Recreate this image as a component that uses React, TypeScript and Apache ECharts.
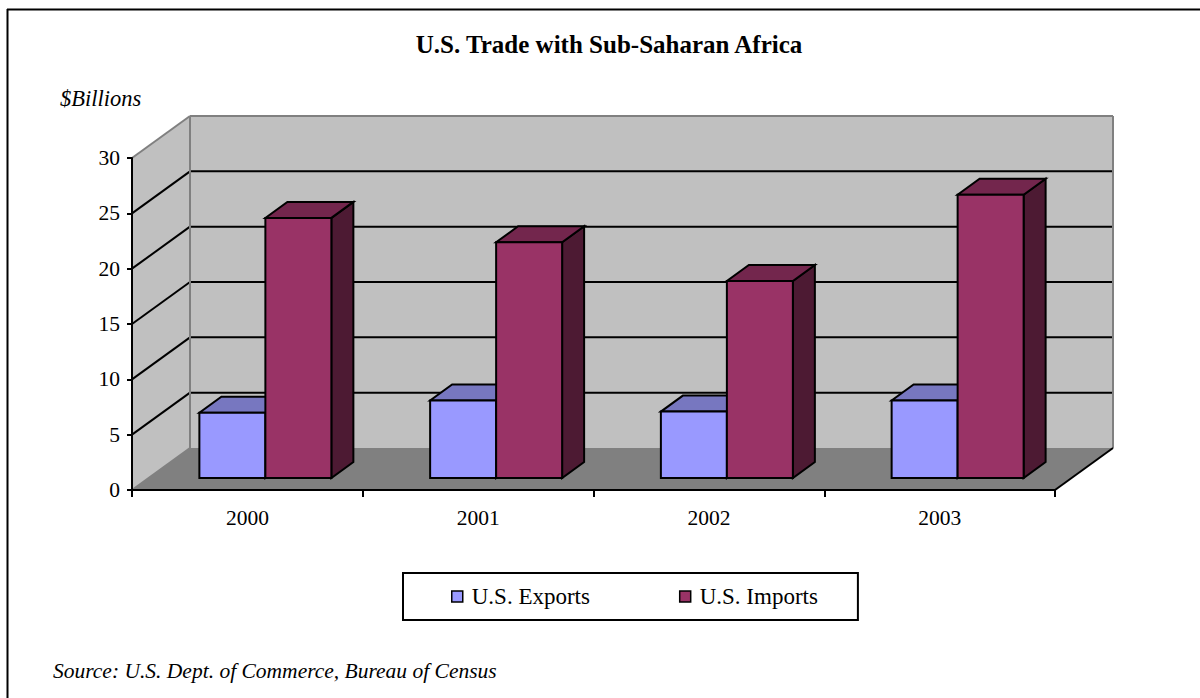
import React, { useEffect, useRef } from "react";
import * as echarts from "echarts";

// ---- data ----
const YEARS = ["2000", "2001", "2002", "2003"];
const EXPORTS = [5.9, 7.0, 6.0, 7.0];
const IMPORTS = [23.5, 21.3, 17.8, 25.6];
const Y_TICKS = [0, 5, 10, 15, 20, 25, 30];
const SERIES_NAMES = ["U.S. Exports", "U.S. Imports"];
const TITLE = "U.S. Trade with Sub-Saharan Africa";
const UNIT = "$Billions";
const SOURCE = "Source: U.S. Dept. of Commerce, Bureau of Census";

// ---- style / layout constants ----
const FONT = '"Liberation Serif", "Times New Roman", serif';
const DEPTH = { dx: 58, dy: -42 };
const BAR_SHIFT = { dx: 18, dy: -12 };
const BAR_DEPTH = { dx: 22, dy: -16 };
const BAR_WIDTH_RATIO = 0.286;

function barRenderer(sideSign: number, front: string, top: string, side: string) {
  return (params: any, api: any) => {
    const idx = api.value(0);
    const val = api.value(1);
    const base = api.coord([idx, 0]);
    const peak = api.coord([idx, val]);
    const bw = api.size([1, 0])[0] * BAR_WIDTH_RATIO;
    const xL = base[0] + BAR_SHIFT.dx + (sideSign < 0 ? -bw : 0);
    const xR = xL + bw;
    const yB = base[1] + BAR_SHIFT.dy;
    const yT = peak[1] + BAR_SHIFT.dy;
    const { dx, dy } = BAR_DEPTH;
    const stroke = { stroke: "#000", lineWidth: 2, lineJoin: "miter" };
    return {
      type: "group",
      children: [
        {
          type: "polygon",
          shape: { points: [[xR, yT], [xR + dx, yT + dy], [xR + dx, yB + dy], [xR, yB]] },
          style: { fill: side, ...stroke },
        },
        {
          type: "polygon",
          shape: { points: [[xL, yT], [xR, yT], [xR + dx, yT + dy], [xL + dx, yT + dy]] },
          style: { fill: top, ...stroke },
        },
        {
          type: "rect",
          shape: { x: xL, y: yT, width: bw, height: yB - yT },
          style: { fill: front, ...stroke },
        },
      ],
    };
  };
}

function wallsRenderer(params: any, api: any) {
  const cs = params.coordSys;
  const x0 = cs.x;
  const x1 = cs.x + cs.width;
  const yTop = cs.y;
  const yBot = cs.y + cs.height;
  const { dx, dy } = DEPTH;
  const gray = "#808080";
  const children: any[] = [
    {
      type: "polygon",
      shape: { points: [[x0, yBot], [x1, yBot], [x1 + dx, yBot + dy], [x0 + dx, yBot + dy]] },
      style: { fill: "#808080" },
    },
    {
      type: "rect",
      shape: { x: x0 + dx, y: yTop + dy, width: x1 - x0, height: yBot - yTop },
      style: { fill: "#C0C0C0" },
    },
    {
      type: "polygon",
      shape: { points: [[x0, yBot], [x0, yTop], [x0 + dx, yTop + dy], [x0 + dx, yBot + dy]] },
      style: { fill: "#C0C0C0" },
    },
  ];
  const maxV = Y_TICKS[Y_TICKS.length - 1];
  Y_TICKS.forEach((v) => {
    if (v <= 0 || v >= maxV) return;
    const y = api.coord([0, v])[1];
    children.push({
      type: "line",
      shape: { x1: x0 + dx, y1: y + dy, x2: x1 + dx, y2: y + dy },
      style: { stroke: "#000", lineWidth: 2 },
    });
    children.push({
      type: "line",
      shape: { x1: x0, y1: y, x2: x0 + dx, y2: y + dy },
      style: { stroke: "#000", lineWidth: 2 },
    });
  });
  const grayLines = [
    [x0, yTop, x0 + dx, yTop + dy],
    [x0 + dx, yTop + dy, x1 + dx, yTop + dy],
    [x0 + dx, yTop + dy, x0 + dx, yBot + dy],
    [x1 + dx, yTop + dy, x1 + dx, yBot + dy],
    [x0, yBot, x0 + dx, yBot + dy],
  ];
  grayLines.forEach((l) => {
    children.push({
      type: "line",
      shape: { x1: l[0], y1: l[1], x2: l[2], y2: l[3] },
      style: { stroke: gray, lineWidth: 2 },
    });
  });
  children.push({
    type: "line",
    shape: { x1: x1, y1: yBot, x2: x1 + dx, y2: yBot + dy },
    style: { stroke: "#000", lineWidth: 2 },
  });
  return { type: "group", children };
}

export default function App() {
  const ref = useRef<HTMLDivElement>(null);
  useEffect(() => {
    if (!ref.current) return;
    const chart = echarts.init(ref.current, null, { renderer: "svg" });
    chart.setOption({
      animation: false,
      backgroundColor: "#fff",
      grid: { left: 132, top: 158, width: 923, height: 332 },
      xAxis: {
        type: "category",
        data: YEARS,
        z: 5,
        axisLine: { lineStyle: { color: "#000", width: 2 } },
        axisTick: { show: true, length: 7, lineStyle: { color: "#000", width: 2 } },
        axisLabel: { color: "#000", fontSize: 21.5, fontFamily: FONT, margin: 17 },
        splitLine: { show: false },
      },
      yAxis: {
        type: "value",
        min: Y_TICKS[0],
        max: Y_TICKS[Y_TICKS.length - 1],
        interval: Y_TICKS[1] - Y_TICKS[0],
        z: 5,
        axisLine: { show: true, lineStyle: { color: "#000", width: 2 } },
        axisTick: { show: true, length: 5, lineStyle: { color: "#000", width: 2 } },
        axisLabel: { color: "#000", fontSize: 21.5, fontFamily: FONT, margin: 12 },
        splitLine: { show: false },
      },
      legend: {
        data: SERIES_NAMES,
        left: 403,
        top: 573,
        orient: "horizontal",
        icon: "rect",
        itemWidth: 11,
        itemHeight: 11,
        itemGap: 89,
        padding: [12, 40, 12, 48],
        borderColor: "#000",
        borderWidth: 2,
        backgroundColor: "#fff",
        itemStyle: { borderColor: "#000", borderWidth: 1.5 },
        textStyle: { color: "#000", fontSize: 23, fontFamily: FONT, padding: [0, 0, 0, 4] },
        selectedMode: false,
      },
      series: [
        {
          type: "custom",
          name: "walls",
          z: 1,
          silent: true,
          renderItem: wallsRenderer,
          data: [[0, 0]],
          encode: { x: 0, y: 1 },
        },
        {
          type: "custom",
          name: SERIES_NAMES[0],
          z: 2,
          itemStyle: { color: "#9999FF" },
          renderItem: barRenderer(-1, "#9999FF", "#7777C0", "#4D4D80"),
          data: EXPORTS.map((v, i) => [i, v]),
          encode: { x: 0, y: 1 },
        },
        {
          type: "custom",
          name: SERIES_NAMES[1],
          z: 3,
          itemStyle: { color: "#993366" },
          renderItem: barRenderer(1, "#993366", "#73264D", "#4D1A33"),
          data: IMPORTS.map((v, i) => [i, v]),
          encode: { x: 0, y: 1 },
        },
      ],
      graphic: [
        {
          type: "line",
          shape: { x1: 7, y1: 9.5, x2: 1200, y2: 9.5 },
          style: { stroke: "#000", lineWidth: 2 },
        },
        {
          type: "line",
          shape: { x1: 7.5, y1: 9, x2: 7.5, y2: 698 },
          style: { stroke: "#000", lineWidth: 2 },
        },
        {
          type: "text",
          x: 609,
          y: 44.5,
          style: {
            text: TITLE,
            fontSize: 25,
            fontWeight: "bold",
            fontFamily: FONT,
            fill: "#000",
            align: "center",
            verticalAlign: "middle",
          },
        },
        {
          type: "text",
          x: 60,
          y: 98,
          style: {
            text: UNIT,
            fontSize: 22.5,
            fontStyle: "italic",
            fontFamily: FONT,
            fill: "#000",
            align: "left",
            verticalAlign: "middle",
          },
        },
        {
          type: "text",
          x: 53,
          y: 671,
          style: {
            text: SOURCE,
            fontSize: 21.5,
            fontStyle: "italic",
            fontFamily: FONT,
            fill: "#000",
            align: "left",
            verticalAlign: "middle",
          },
        },
      ],
    });
    return () => chart.dispose();
  }, []);
  return (
    <div
      ref={ref}
      style={{ position: "fixed", left: 0, top: 0, width: 1200, height: 698 }}
    />
  );
}
